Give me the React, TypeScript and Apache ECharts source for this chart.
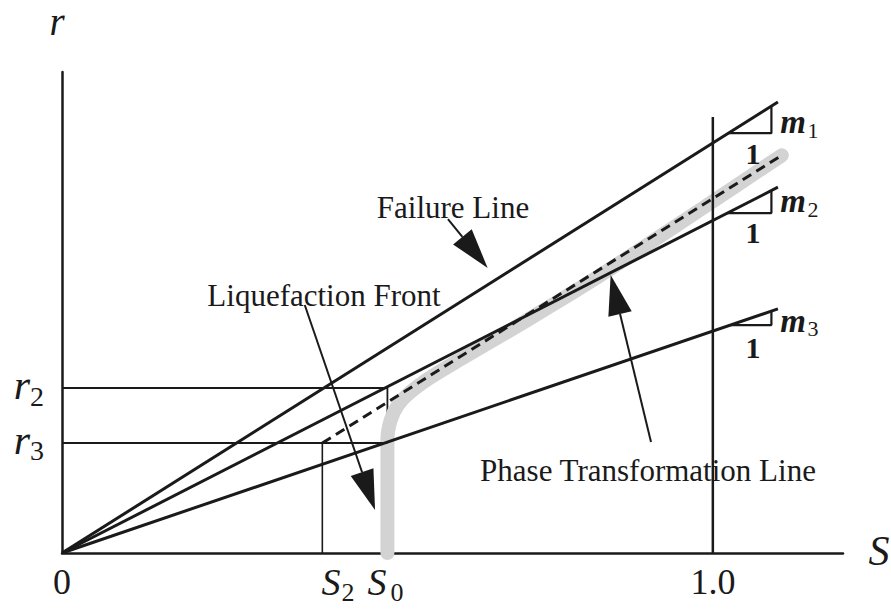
import React, { useEffect, useRef } from "react";
import * as echarts from "echarts";

// ---- data (axis units: S horizontally, r vertically) ----
const X_MAX = 1.2;
const Y_MAX = 0.739;
const lineEndX = 1.1;
const failureEndY = 0.693;
const m2EndY = 0.562;
const m3EndY = 0.375;
const S0 = 0.5;
const S2 = 0.4;
const R2 = 0.2535;
const R3 = 0.169;
const unitLineTop = 0.67;
const dashedLine: number[][] = [
  [0.4, 0.169],
  [1.106, 0.611],
];
const phaseCurve: number[][] = [
  [0.5, 0],
  [0.5, 0.174],
  [0.505, 0.204],
  [0.516, 0.227],
  [0.535, 0.247],
  [0.565, 0.269],
  [0.611, 0.297],
  [0.673, 0.333],
  [0.75, 0.379],
  [0.826, 0.426],
  [0.903, 0.476],
  [0.98, 0.527],
  [1.106, 0.611],
];
const triLevels = [0.645, 0.5223, 0.3502];
const triRightX = 1.09;
// arrows: [fromS, fromR, tipS, tipR]
const arrows: number[][] = [
  [0.593, 0.513, 0.654, 0.438],
  [0.373, 0.381, 0.481, 0.066],
  [0.905, 0.1705, 0.843, 0.427],
];

const INK = "#1a1a1a";
const FONT = "Liberation Serif";

function lineSeries(data: number[][], width: number, extra: any = {}) {
  return {
    type: "line",
    data,
    symbol: "none",
    silent: true,
    lineStyle: { color: INK, width, ...(extra.lineStyle || {}) },
    z: extra.z ?? 3,
  };
}

export default function App() {
  const ref = useRef<HTMLDivElement>(null);
  useEffect(() => {
    if (!ref.current) return;
    const chart = echarts.init(ref.current, undefined, { renderer: "svg" });
    const ends = [failureEndY, m2EndY, m3EndY];
    const slopes = ends.map((e) => e / lineEndX);
    const triangles = triLevels.map((lv, i) => [
      [lv / slopes[i], lv],
      [triRightX, lv],
      [triRightX, triRightX * slopes[i]],
    ]);

    const txt = (text: string, x: number, y: number, size: number, opts: any = {}) => ({
      type: "text",
      x,
      y,
      silent: true,
      z: 10,
      style: {
        text,
        fill: INK,
        font: `${opts.style || "normal"} ${opts.weight || "normal"} ${size}px "${FONT}"`,
        align: "center",
        verticalAlign: "middle",
      },
    });

    const graphics = [
      txt("r", 57, 21, 39, { style: "italic" }),
      txt("S", 879, 551, 42, { style: "italic" }),
      txt("r", 22, 385, 42, { style: "italic" }),
      txt("2", 37, 396, 28),
      txt("r", 22, 440, 42, { style: "italic" }),
      txt("3", 37, 450, 28),
      txt("0", 62, 582, 36),
      txt("S", 331, 582, 38, { style: "italic" }),
      txt("2", 348, 592, 26),
      txt("S", 377, 582, 38, { style: "italic" }),
      txt("0", 397, 592, 26),
      txt("1.0", 713, 582, 36),
      txt("m", 793, 122, 33, { style: "italic", weight: "bold" }),
      txt("1", 813, 130, 22),
      txt("1", 753, 153, 30, { weight: "bold" }),
      txt("m", 793, 201, 33, { style: "italic", weight: "bold" }),
      txt("2", 813, 209, 22),
      txt("1", 753, 232, 30, { weight: "bold" }),
      txt("m", 793, 321, 33, { style: "italic", weight: "bold" }),
      txt("3", 813, 328, 22),
      txt("1", 753, 347, 30, { weight: "bold" }),
      txt("Failure Line", 453, 207, 31),
      txt("Liquefaction Front", 324, 295, 31),
      txt("Phase Transformation Line", 648, 470, 31),
    ];

    chart.setOption({
      animation: false,
      backgroundColor: "#ffffff",
      grid: { left: 62, top: 72, width: 781, height: 481, containLabel: false },
      xAxis: {
        type: "value",
        min: 0,
        max: X_MAX,
        axisLine: { show: true, lineStyle: { color: INK, width: 2.5 } },
        axisTick: { show: false },
        axisLabel: { show: false },
        splitLine: { show: false },
      },
      yAxis: {
        type: "value",
        min: 0,
        max: Y_MAX,
        axisLine: { show: true, lineStyle: { color: INK, width: 2.5 } },
        axisTick: { show: false },
        axisLabel: { show: false },
        splitLine: { show: false },
      },
      graphic: graphics,
      series: [
        lineSeries([[S0, R2], [S0, 0]], 1.8, { z: 0 }),
        {
          type: "line",
          data: phaseCurve,
          symbol: "none",
          smooth: 0.3,
          silent: true,
          lineStyle: { color: "#d3d3d3", width: 14, cap: "round", join: "round" },
          z: 1,
        },
        lineSeries([[0, 0], [lineEndX, failureEndY]], 3),
        lineSeries([[0, 0], [lineEndX, m2EndY]], 3),
        lineSeries([[0, 0], [lineEndX, m3EndY]], 3),
        lineSeries([[1.0, 0], [1.0, unitLineTop]], 2.5),
        lineSeries([[0, R2], [S0, R2]], 2),
        lineSeries([[0, R3], [S0, R3]], 2),
        lineSeries([[S2, R3], [S2, 0]], 1.6),
        lineSeries(dashedLine, 3, { lineStyle: { type: [10, 6] }, z: 4 }),
        ...triangles.map((t) => lineSeries(t, 2.2)),
        {
          type: "custom",
          coordinateSystem: "cartesian2d",
          data: arrows,
          encode: { x: [0, 2], y: [1, 3] },
          silent: true,
          z: 6,
          renderItem: (_p: any, api: any) => {
            const p0 = api.coord([api.value(0), api.value(1)]);
            const p1 = api.coord([api.value(2), api.value(3)]);
            const dx = p1[0] - p0[0];
            const dy = p1[1] - p0[1];
            const len = Math.hypot(dx, dy);
            const ux = dx / len;
            const uy = dy / len;
            const hl = 40;
            const hw = 12;
            const bx = p1[0] - ux * hl;
            const by = p1[1] - uy * hl;
            return {
              type: "group",
              children: [
                {
                  type: "line",
                  shape: { x1: p0[0], y1: p0[1], x2: bx, y2: by },
                  style: { stroke: INK, lineWidth: 2 },
                },
                {
                  type: "polygon",
                  shape: {
                    points: [
                      [p1[0], p1[1]],
                      [bx - uy * hw, by + ux * hw],
                      [bx + uy * hw, by - ux * hw],
                    ],
                  },
                  style: { fill: INK },
                },
              ],
            };
          },
        },
      ],
    });
    return () => chart.dispose();
  }, []);
  return (
    <div
      ref={ref}
      style={{ position: "absolute", left: 0, top: 0, width: 891, height: 610, background: "#fff" }}
    />
  );
}
